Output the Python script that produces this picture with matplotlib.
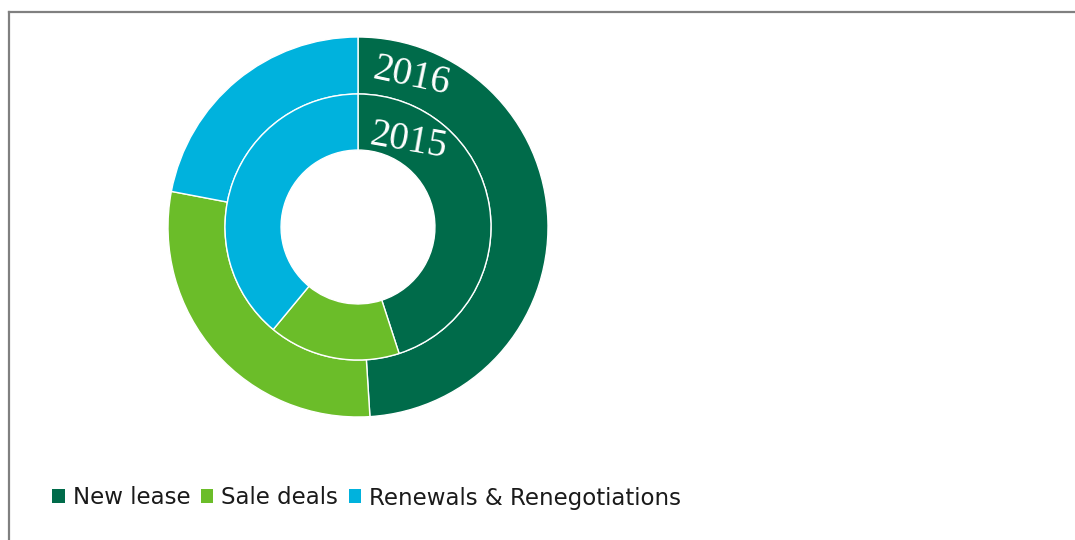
import matplotlib.pyplot as plt
from matplotlib.lines import Line2D
from matplotlib.patches import Patch

# ── Data ──────────────────────────────────────────────────────────────────────
categories = ["New lease", "Sale deals", "Renewals & Renegotiations"]
share_2016 = [49, 29, 22]   # outer ring
share_2015 = [45, 16, 39]   # inner ring
colors = ["#006b4a", "#6bbd29", "#00b2dd"]

W, H = 1075, 540
fig = plt.figure(figsize=(W / 100, H / 100), dpi=100)

# frame (left + top edges)
fig.add_artist(Line2D([9 / W, 9 / W], [0, 1 - 12 / H], color="#808080", lw=1.6))
fig.add_artist(Line2D([9 / W, 1], [1 - 12 / H, 1 - 12 / H], color="#808080", lw=1.6))

# ── Donuts ────────────────────────────────────────────────────────────────────
R = 190
cx, cy = 358, 227
ax = fig.add_axes([(cx - R) / W, (H - cy - R) / H, 2 * R / W, 2 * R / H])
ax.set_xlim(-1, 1); ax.set_ylim(-1, 1); ax.set_aspect("equal"); ax.axis("off")

wp = dict(edgecolor="white", linewidth=1)
ax.pie(share_2016, colors=colors, radius=1.0, startangle=90, counterclock=False,
       wedgeprops=dict(width=0.30, **wp))
ax.pie(share_2015, colors=colors, radius=0.70, startangle=90, counterclock=False,
       wedgeprops=dict(width=0.295, **wp))
ax.set_xlim(-1, 1); ax.set_ylim(-1, 1)

def fx(px): return (px - cx) / R
def fy(py): return (cy - py) / R

ax.text(fx(411), fy(77), "2016", color="white", fontsize=28, family="Liberation Serif",
        rotation=-12, ha="center", va="center")
ax.text(fx(408), fy(141), "2015", color="white", fontsize=28, family="Liberation Serif",
        rotation=-10, ha="center", va="center")

# ── Legend ────────────────────────────────────────────────────────────────────
handles = [Patch(facecolor=c, edgecolor="none") for c in colors]
fig.legend(handles, categories, loc="center left", bbox_to_anchor=(43 / W, 1 - 498 / H),
           ncol=3, frameon=False, handlelength=0.55, handleheight=0.55,
           handletextpad=0.35, columnspacing=0.45, borderaxespad=0,
           prop=dict(family="DejaVu Sans", size=16.5), labelcolor="#1a1a1a")

plt.savefig("out.png", dpi=100)
